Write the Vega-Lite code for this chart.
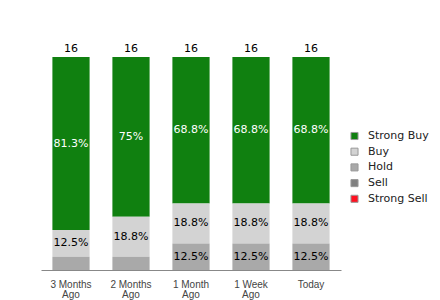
{
  "$schema": "https://vega.github.io/schema/vega-lite/v6.json",
  "autosize": "none",
  "width": 300,
  "height": 213,
  "padding": {"left": 41, "top": 57, "right": 99, "bottom": 30},
  "background": "white",
  "config": {"view": {"stroke": null}, "font": "DejaVu Sans"},
  "data": {"values": [
    {"period": "3 Months Ago", "rating": "Strong Buy", "rank": 5, "count": 13, "label": "81.3%"},
    {"period": "3 Months Ago", "rating": "Buy", "rank": 4, "count": 2, "label": "12.5%"},
    {"period": "3 Months Ago", "rating": "Hold", "rank": 3, "count": 1, "label": ""},
    {"period": "2 Months Ago", "rating": "Strong Buy", "rank": 5, "count": 12, "label": "75%"},
    {"period": "2 Months Ago", "rating": "Buy", "rank": 4, "count": 3, "label": "18.8%"},
    {"period": "2 Months Ago", "rating": "Hold", "rank": 3, "count": 1, "label": ""},
    {"period": "1 Month Ago", "rating": "Strong Buy", "rank": 5, "count": 11, "label": "68.8%"},
    {"period": "1 Month Ago", "rating": "Buy", "rank": 4, "count": 3, "label": "18.8%"},
    {"period": "1 Month Ago", "rating": "Hold", "rank": 3, "count": 2, "label": "12.5%"},
    {"period": "1 Week Ago", "rating": "Strong Buy", "rank": 5, "count": 11, "label": "68.8%"},
    {"period": "1 Week Ago", "rating": "Buy", "rank": 4, "count": 3, "label": "18.8%"},
    {"period": "1 Week Ago", "rating": "Hold", "rank": 3, "count": 2, "label": "12.5%"},
    {"period": "Today", "rating": "Strong Buy", "rank": 5, "count": 11, "label": "68.8%"},
    {"period": "Today", "rating": "Buy", "rank": 4, "count": 3, "label": "18.8%"},
    {"period": "Today", "rating": "Hold", "rank": 3, "count": 2, "label": "12.5%"}
  ]},
  "transform": [
    {"stack": "count", "groupby": ["period"], "sort": [{"field": "rank", "order": "ascending"}], "as": ["y0", "y1"]},
    {"calculate": "(datum.y0 + datum.y1) / 2", "as": "ymid"},
    {"joinaggregate": [{"op": "sum", "field": "count", "as": "total"}], "groupby": ["period"]}
  ],
  "encoding": {
    "x": {
      "field": "period", "type": "nominal",
      "sort": ["3 Months Ago", "2 Months Ago", "1 Month Ago", "1 Week Ago", "Today"],
      "scale": {"paddingInner": 0.38, "paddingOuter": 0.19},
      "axis": {
        "title": null, "ticks": false, "labelAngle": 0,
        "domainColor": "#888888", "domainWidth": 1,
        "labelFont": "Liberation Sans", "labelFontSize": 10, "labelColor": "#444444",
        "labelBaseline": "middle", "labelPadding": 14, "labelLineHeight": 10,
        "labelExpr": "datum.label == 'Today' ? 'Today' : [slice(datum.label, 0, indexof(datum.label, ' Ago')), 'Ago']"
      }
    }
  },
  "layer": [
    {
      "mark": {"type": "bar"},
      "encoding": {
        "y": {"field": "y0", "type": "quantitative", "scale": {"domain": [0, 16]}, "axis": null},
        "y2": {"field": "y1"},
        "color": {
          "field": "rating", "type": "nominal",
          "scale": {
            "domain": ["Strong Buy", "Buy", "Hold", "Sell", "Strong Sell"],
            "range": ["#108010", "#d3d3d3", "#a9a9a9", "#808080", "#ff1020"]
          },
          "legend": {
            "title": null, "orient": "none", "legendX": 308, "legendY": 73.5,
            "symbolType": "square", "symbolSize": 50, "symbolStrokeWidth": 1,
            "symbolStrokeColor": "#999999",
            "labelFont": "DejaVu Sans", "labelFontSize": 11, "labelColor": "#222222",
            "rowPadding": 2.7, "labelOffset": 8
          }
        }
      }
    },
    {
      "mark": {"type": "text", "fontSize": 11, "baseline": "middle"},
      "encoding": {
        "y": {"field": "ymid", "type": "quantitative"},
        "text": {"field": "label"},
        "color": {
          "condition": {"test": "datum.rating == 'Strong Buy'", "value": "white"},
          "value": "black"
        }
      }
    },
    {
      "transform": [{"filter": "datum.rank == 5"}],
      "mark": {"type": "text", "fontSize": 11, "baseline": "bottom", "dy": -3, "color": "black"},
      "encoding": {
        "y": {"field": "total", "type": "quantitative"},
        "text": {"field": "total", "type": "quantitative"}
      }
    }
  ]
}
